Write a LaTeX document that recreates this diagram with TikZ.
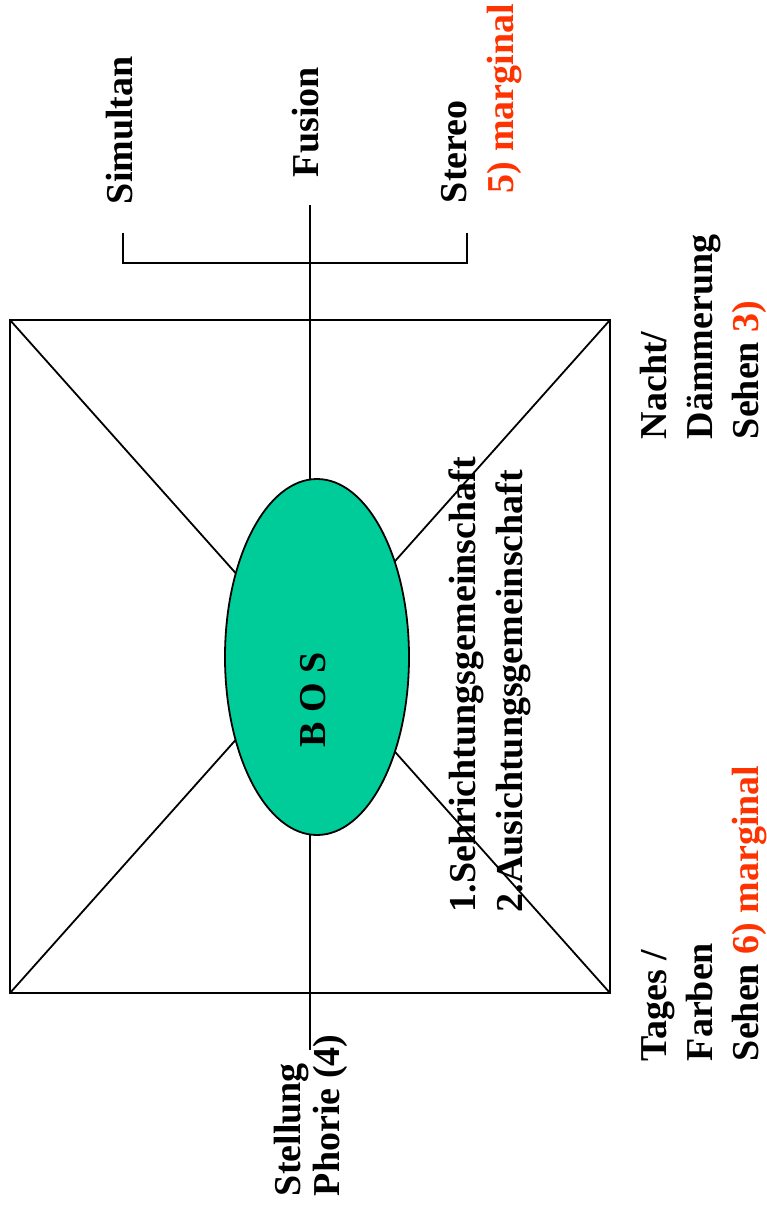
\documentclass[tikz,border=0pt]{standalone}
\usepackage{fontspec}
\setmainfont{Liberation Serif}
\usetikzlibrary{shapes.geometric}
\definecolor{bosgreen}{RGB}{0,204,153}
\definecolor{redtxt}{RGB}{255,51,0}
\begin{document}
\begin{tikzpicture}[x=1pt,y=-1pt,line width=1.8pt,
  lbl/.style={rotate=90,anchor=base west,inner sep=0pt,font=\fontsize{38}{44}\selectfont\bfseries},
  red/.style={text=redtxt}]
\useasboundingbox (0,0) rectangle (766,1218);
% frame corners
\coordinate (tl) at (10,320);
\coordinate (tr) at (610,320);
\coordinate (br) at (610,993);
\coordinate (bl) at (10,993);
\draw (tl) -- (tr) -- (br) -- (bl) -- cycle;
\draw (tl) -- (br);
\draw (tr) -- (bl);
% vertical axis
\coordinate (vtop) at (310,205);
\coordinate (vbot) at (310,1050);
\draw (vtop) -- (vbot);
% bracket
\coordinate (bka) at (123,233);
\coordinate (bkb) at (123,263);
\coordinate (bkc) at (467,263);
\coordinate (bkd) at (467,233);
\draw (bka) -- (bkb) -- (bkc) -- (bkd);
% central ellipse
\node[ellipse,draw,fill=bosgreen,minimum width=184pt,minimum height=356pt,inner sep=0pt] (bos) at (317,657) {};
\node[lbl] (bostxt) at (325,748) {B O S};
% labels
\node[lbl] (simultan) at (132,205) {Simultan};
\node[lbl] (fusion) at (318,178) {Fusion};
\node[lbl] (stereo) at (466,204) {Stereo};
\node[lbl,red] (marg5) at (513,194) {5) marginal};
\node[lbl] (nacht1) at (666,440) {Nacht/};
\node[lbl] (nacht2) at (712,440) {Dämmerung};
\node[lbl] (nacht3) at (758,440) {Sehen \textcolor{redtxt}{3)}};
\node[lbl] (tages1) at (666,1062) {Tages /};
\node[lbl] (tages2) at (712,1062) {Farben};
\node[lbl] (tages3) at (758,1062) {Sehen \textcolor{redtxt}{6) marginal}};
\node[lbl] (stell1) at (300,1197) {Stellung};
\node[lbl] (stell2) at (339,1197) {Phorie (4)};
\node[lbl] (gem1) at (475,913) {1.Sehrichtungsgemeinschaft};
\node[lbl] (gem2) at (522,913) {2.Ausichtungsgemeinschaft};
\end{tikzpicture}
\end{document}
